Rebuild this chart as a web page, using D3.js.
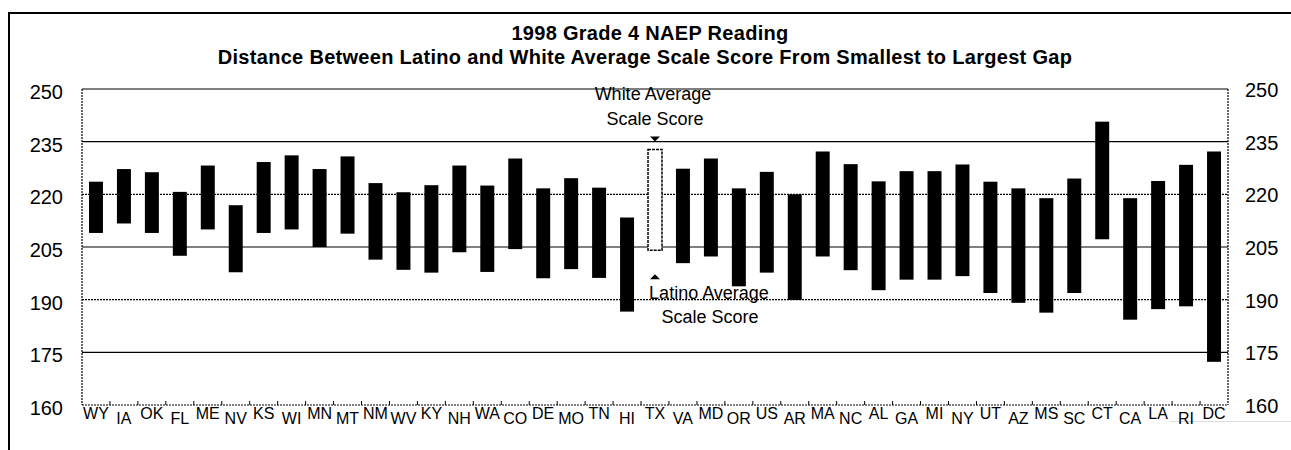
<!DOCTYPE html>
<html>
<head>
<meta charset="utf-8">
<script src="https://cdn.jsdelivr.net/npm/d3@7"></script>
<style>
  body { margin: 0; background: #fff; }
  svg { display: block; }
</style>
</head>
<body>
<div id="chart"></div>
<script>
// states, ordered from smallest to largest gap
const states = ["WY","IA","OK","FL","ME","NV","KS","WI","MN","MT","NM","WV","KY","NH","WA","CO","DE","MO","TN","HI",
  "TX","VA","MD","OR","US","AR","MA","NC","AL","GA","MI","NY","UT","AZ","MS","SC","CT","CA","LA","RI","DC"];
// Latino average scale score (bottom of each bar)
const latinoScores = [209,211.7,209,202.5,210,197.8,209,210,205,208.8,201.4,198.5,197.7,203.5,197.9,204.4,196.1,198.7,196.2,186.6,
  204.1,200.4,202.3,193.8,197.7,189.9,202.3,198.4,192.7,195.7,195.7,196.7,191.9,189.1,186.3,191.9,207.2,184.3,187.3,188.1,172.3];
// White average scale score (top of each bar)
const whiteScores = [223.6,227.2,226.3,220.7,228.2,216.9,229.2,231.1,227.2,230.8,223.2,220.6,222.6,228.2,222.5,230.2,221.7,224.6,221.9,213.4,
  232.8,227.3,230.2,221.7,226.4,220,232.2,228.6,223.7,226.6,226.6,228.5,223.6,221.7,218.9,224.5,240.7,218.9,223.8,228.4,232.2];
const yTicks = [160, 175, 190, 205, 220, 235, 250];
const solidLines = [175, 205, 235, 250];
const dottedLines = [160, 190, 220];
const highlight = "TX";

const W = 1291, H = 450;
const svg = d3.select("#chart").append("svg").attr("width", W).attr("height", H);

const data = states.map((s, i) => ({ state: s, lo: latinoScores[i], hi: whiteScores[i] }));

const x = d3.scaleBand().domain(states).range([82, 1228]).paddingInner(0.5).paddingOuter(0.25);
const y = d3.scaleLinear().domain([160, 250]).range([405, 89]);

// outer frame (left and top edges)
svg.append("path")
    .attr("d", "M9,450 V13 H1291")
    .attr("fill", "none").attr("stroke", "#000").attr("stroke-width", 2);
svg.append("line")
    .attr("x1", 1170).attr("x2", 1291).attr("y1", 421.5).attr("y2", 421.5)
    .attr("stroke", "#ddd").attr("stroke-width", 1);

// title
const title = svg.append("text")
    .attr("text-anchor", "middle")
    .style("font-family", "'Liberation Sans', Arial, sans-serif")
    .style("font-weight", "bold")
    .style("font-size", "20px")
    .style("letter-spacing", "0.3px");
title.append("tspan").attr("x", 650).attr("y", 40).text("1998 Grade 4 NAEP Reading");
title.append("tspan").attr("x", 645).attr("y", 64)
    .text("Distance Between Latino and White Average Scale Score From Smallest to Largest Gap");

const plot = svg.append("g");

// gridlines
plot.selectAll("line.solid").data(solidLines).enter().append("line")
    .attr("x1", 82).attr("x2", 1228)
    .attr("y1", d => y(d)).attr("y2", d => y(d))
    .attr("stroke", "#000").attr("stroke-width", 1.2);
plot.selectAll("line.dot").data(dottedLines).enter().append("line")
    .attr("x1", 82).attr("x2", 1228)
    .attr("y1", d => y(d)).attr("y2", d => y(d))
    .attr("stroke", "#000").attr("stroke-width", 1.2).attr("stroke-dasharray", "2,1");

// side borders (dotted)
[82, 1228].forEach(px => {
  plot.append("line")
      .attr("x1", px).attr("x2", px).attr("y1", y(250)).attr("y2", y(160))
      .attr("stroke", "#000").attr("stroke-width", 1.2).attr("stroke-dasharray", "2,1");
});

// small ticks between states
const step = x.step();
plot.selectAll("line.tick").data(states.slice(1)).enter().append("line")
    .attr("x1", d => x(d) - step * 0.25).attr("x2", d => x(d) - step * 0.25)
    .attr("y1", y(160)).attr("y2", y(160) - 4)
    .attr("stroke", "#000").attr("stroke-width", 1);

// bars
plot.selectAll("rect.bar").data(data).enter().append("rect")
    .attr("x", d => x(d.state))
    .attr("width", x.bandwidth())
    .attr("y", d => y(d.hi))
    .attr("height", d => y(d.lo) - y(d.hi))
    .attr("fill", d => d.state === highlight ? "#fff" : "#000")
    .attr("stroke", d => d.state === highlight ? "#000" : "none")
    .attr("stroke-width", 1.5)
    .attr("stroke-dasharray", d => d.state === highlight ? "3,1" : null);

// y labels both sides
const labelFont = "'Liberation Sans', Arial, sans-serif";
plot.selectAll("text.yl").data(yTicks).enter().append("text")
    .attr("x", 63).attr("y", d => y(d) + 10)
    .attr("text-anchor", "end")
    .style("font-family", labelFont).style("font-size", "20px")
    .text(d => d);
plot.selectAll("text.yr").data(yTicks).enter().append("text")
    .attr("x", 1245).attr("y", d => y(d) + 8)
    .attr("text-anchor", "start")
    .style("font-family", labelFont).style("font-size", "20px")
    .text(d => d);

// state labels, staggered
plot.selectAll("text.xl").data(states).enter().append("text")
    .attr("x", d => x(d) + x.bandwidth() / 2)
    .attr("y", (d, i) => i % 2 === 0 ? 419 : 424)
    .attr("text-anchor", "middle")
    .style("font-family", labelFont).style("font-size", "16px")
    .text(d => d);

// annotation for the highlighted bar
const hx = x(highlight) + x.bandwidth() / 2;
const hd = data.find(d => d.state === highlight);
const ann = svg.append("g")
    .style("font-family", labelFont).style("font-size", "18px");
ann.append("text").attr("x", hx - 2).attr("y", 100).attr("text-anchor", "middle").text("White Average");
ann.append("text").attr("x", hx).attr("y", 125).attr("text-anchor", "middle").text("Scale Score");
ann.append("path")
    .attr("d", `M${hx - 5},${y(hd.hi) - 13} h10 l-5,5 z`).attr("fill", "#000");
ann.append("path")
    .attr("d", `M${hx - 5},${y(hd.lo) + 29} h10 l-5,-5 z`).attr("fill", "#000");
ann.append("text").attr("x", hx + 54).attr("y", 299).attr("text-anchor", "middle").text("Latino Average");
ann.append("text").attr("x", hx + 55).attr("y", 323).attr("text-anchor", "middle").text("Scale Score");
</script>
</body>
</html>
